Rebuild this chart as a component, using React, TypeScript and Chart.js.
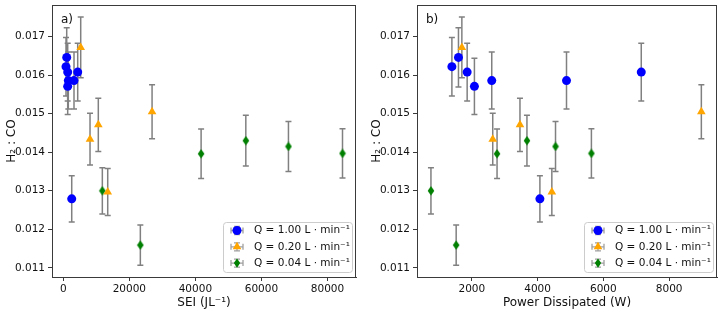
import React, { useEffect, useRef } from "react";
import { Chart, registerables } from "chart.js";

Chart.register(...registerables);

const FONT = "'DejaVu Sans', sans-serif";

const yTickValues = [0.011, 0.012, 0.013, 0.014, 0.015, 0.016, 0.017];
const seiTickValues = [0, 20000, 40000, 60000, 80000];
const powerTickValues = [2000, 4000, 6000, 8000];

const seriesLabels = ["Q = 1.00 L · min⁻¹", "Q = 0.20 L · min⁻¹", "Q = 0.04 L · min⁻¹"];
const seriesColors = ["#0000ff", "#ffa500", "#008000"];
const seriesMarkers = ["circle", "triangle", "thinDiamond"];

// Q = 1.00 L/min
const ratioQ100 = [0.01646, 0.01622, 0.01608, 0.01586, 0.01586, 0.01571, 0.01608, 0.01279];
const errQ100 = [0.00077, 0.00076, 0.00075, 0.00074, 0.00074, 0.00073, 0.00075, 0.0006];
const seiQ100 = [1030, 820, 1330, 1520, 3240, 1330, 4360, 2550];
const powerQ100 = [1594, 1394, 1858, 2606, 4879, 2079, 7152, 4070];

// Q = 0.20 L/min
const ratioQ020 = [0.01672, 0.01434, 0.01471, 0.01297, 0.01505];
const errQ020 = [0.00079, 0.00067, 0.00069, 0.00061, 0.0007];
const seiQ020 = [5270, 8090, 10600, 13450, 26880];
const powerQ020 = [1697, 2636, 3464, 4433, 8979];

// Q = 0.04 L/min
const ratioQ004 = [0.013, 0.01159, 0.01396, 0.0143, 0.01415, 0.01397];
const errQ004 = [0.0006, 0.00052, 0.00064, 0.00066, 0.00065, 0.00064];
const seiQ004 = [11820, 23330, 41730, 55270, 68180, 84550];
const powerQ004 = [757, 1524, 2767, 3676, 4545, 5636];

const ratios = [ratioQ100, ratioQ020, ratioQ004];
const errors = [errQ100, errQ020, errQ004];

const Y_MIN = 0.010762;
const Y_MAX = 0.017821;

const AXIS_COLOR = "#3a3a3a";

function drawMarker(ctx: CanvasRenderingContext2D, kind: string, x: number, y: number, color: string) {
  ctx.save();
  ctx.fillStyle = color;
  ctx.beginPath();
  if (kind === "circle") {
    ctx.arc(x, y, 4.5, 0, Math.PI * 2);
  } else if (kind === "triangle") {
    const r = 5;
    ctx.moveTo(x, y - r);
    ctx.lineTo(x + r * 0.866, y + r * 0.5);
    ctx.lineTo(x - r * 0.866, y + r * 0.5);
    ctx.closePath();
  } else {
    ctx.moveTo(x, y - 4.7);
    ctx.lineTo(x + 3.2, y);
    ctx.lineTo(x, y + 4.7);
    ctx.lineTo(x - 3.2, y);
    ctx.closePath();
  }
  ctx.fill();
  ctx.restore();
}

function makeThinDiamond(color: string): HTMLCanvasElement {
  const c = document.createElement("canvas");
  c.width = 8;
  c.height = 10;
  const g = c.getContext("2d")!;
  g.fillStyle = color;
  g.beginPath();
  g.moveTo(4, 0.3);
  g.lineTo(7.3, 5);
  g.lineTo(4, 9.7);
  g.lineTo(0.7, 5);
  g.closePath();
  g.fill();
  return c;
}

const errorBarPlugin = {
  id: "errorBars",
  beforeDatasetsDraw(chart: any) {
    const { ctx } = chart;
    const yScale = chart.scales.y;
    ctx.save();
    ctx.strokeStyle = "#808080";
    ctx.lineWidth = 1.5;
    chart.data.datasets.forEach((ds: any, di: number) => {
      const meta = chart.getDatasetMeta(di);
      meta.data.forEach((pt: any, i: number) => {
        const v = ds.data[i].y;
        const e = ds.errors[i];
        const x = pt.x;
        const yTop = yScale.getPixelForValue(v + e);
        const yBot = yScale.getPixelForValue(v - e);
        ctx.beginPath();
        ctx.moveTo(x, yTop);
        ctx.lineTo(x, yBot);
        ctx.moveTo(x - 3, yTop);
        ctx.lineTo(x + 3, yTop);
        ctx.moveTo(x - 3, yBot);
        ctx.lineTo(x + 3, yBot);
        ctx.stroke();
      });
    });
    ctx.restore();
  },
};

const decorPlugin = {
  id: "decor",
  afterDraw(chart: any, _args: any, opts: any) {
    const { ctx, chartArea: a } = chart;
    ctx.save();
    // frame
    ctx.strokeStyle = AXIS_COLOR;
    ctx.lineWidth = 1;
    ctx.strokeRect(Math.round(a.left) + 0.5, Math.round(a.top) + 0.5, Math.round(a.right - a.left) - 1, Math.round(a.bottom - a.top));
    // panel tag
    ctx.fillStyle = "#111";
    ctx.font = `12px ${FONT}`;
    ctx.textAlign = "left";
    ctx.textBaseline = "middle";
    ctx.fillText(opts.tag, a.left + 9, a.top + 15);
    // x title
    ctx.textAlign = "center";
    ctx.fillText(opts.xTitle, (a.left + a.right) / 2, 303);
    // y title
    ctx.save();
    ctx.translate(a.left - 40, (a.top + a.bottom) / 2);
    ctx.rotate(-Math.PI / 2);
    ctx.fillText("H₂ : CO", 0, 0);
    ctx.restore();
    // legend
    const bw = 129;
    const bh = 50;
    const bx = a.right - 4 - bw;
    const by = a.bottom - 5 - bh;
    ctx.beginPath();
    ctx.roundRect(bx + 0.5, by + 0.5, bw, bh, 3);
    ctx.fillStyle = "rgba(255,255,255,0.85)";
    ctx.fill();
    ctx.strokeStyle = "#cccccc";
    ctx.lineWidth = 1;
    ctx.stroke();
    seriesLabels.forEach((label, i) => {
      const cy = by + 8.5 + i * 16.3;
      const cx = bx + 14;
      ctx.strokeStyle = "#a0a0a0";
      ctx.lineWidth = 1.3;
      ctx.beginPath();
      ctx.moveTo(cx - 6, cy);
      ctx.lineTo(cx + 6, cy);
      ctx.moveTo(cx - 6, cy - 3);
      ctx.lineTo(cx - 6, cy + 3);
      ctx.moveTo(cx + 6, cy - 3);
      ctx.lineTo(cx + 6, cy + 3);
      ctx.moveTo(cx, cy - 4);
      ctx.lineTo(cx, cy + 4);
      ctx.moveTo(cx - 3, cy - 4);
      ctx.lineTo(cx + 3, cy - 4);
      ctx.moveTo(cx - 3, cy + 4);
      ctx.lineTo(cx + 3, cy + 4);
      ctx.stroke();
      drawMarker(ctx, seriesMarkers[i], cx, cy, seriesColors[i]);
      ctx.fillStyle = "#111";
      ctx.font = `10.5px ${FONT}`;
      ctx.textAlign = "left";
      ctx.textBaseline = "middle";
      ctx.fillText(label, bx + 31, cy);
    });
    ctx.restore();
  },
};

type PanelProps = {
  xSeries: number[][];
  xTicks: number[];
  xMin: number;
  xMax: number;
  xTitle: string;
  tag: string;
  yAxisWidth: number;
  padRight: number;
  left: number;
};

function Panel({ xSeries, xTicks, xMin, xMax, xTitle, tag, yAxisWidth, padRight, left }: PanelProps) {
  const ref = useRef<HTMLCanvasElement>(null);
  useEffect(() => {
    const canvas = ref.current!;
    const diamond = makeThinDiamond(seriesColors[2]);
    const styles: any[] = ["circle", "triangle", diamond];
    const radii = [4.5, 5, 4.5];
    const datasets = xSeries.map((xs, si) => ({
      label: seriesLabels[si],
      data: xs.map((x, i) => ({ x, y: ratios[si][i] })),
      errors: errors[si],
      pointStyle: styles[si],
      pointRadius: radii[si],
      pointHoverRadius: radii[si],
      backgroundColor: seriesColors[si],
      borderColor: seriesColors[si],
      pointBorderWidth: 0,
      showLine: false,
    }));
    const chart = new Chart(canvas, {
      type: "scatter",
      data: { datasets: datasets as any },
      options: {
        animation: false,
        responsive: false,
        devicePixelRatio: 1,
        layout: { padding: { top: 2, right: padRight, left: 0, bottom: 0 } },
        plugins: {
          legend: { display: false },
          tooltip: { enabled: false },
          decor: { tag, xTitle },
        } as any,
        scales: {
          x: {
            type: "linear",
            min: xMin,
            max: xMax,
            afterBuildTicks: (s: any) => {
              s.ticks = xTicks.map((v) => ({ value: v }));
            },
            afterFit: (s: any) => {
              s.height = 36;
              s.paddingLeft = 0;
              s.paddingRight = 0;
            },
            ticks: {
              autoSkip: false,
              maxRotation: 0,
              minRotation: 0,
              padding: 2,
              color: "#111",
              font: { family: FONT, size: 10.5 },
              callback: (v: any) => String(Math.round(Number(v))),
            },
            grid: { display: true, drawOnChartArea: false, drawTicks: true, tickLength: 4, color: AXIS_COLOR, lineWidth: 1 },
            border: { display: true, color: AXIS_COLOR, width: 1 },
          },
          y: {
            type: "linear",
            min: Y_MIN,
            max: Y_MAX,
            afterBuildTicks: (s: any) => {
              s.ticks = yTickValues.map((v) => ({ value: v }));
            },
            afterFit: (s: any) => {
              s.width = yAxisWidth;
              s.paddingTop = 0;
              s.paddingBottom = 0;
            },
            ticks: {
              autoSkip: false,
              padding: 3,
              color: "#111",
              font: { family: FONT, size: 10.5 },
              callback: (v: any) => Number(v).toFixed(3),
            },
            grid: { display: true, drawOnChartArea: false, drawTicks: true, tickLength: 4, color: AXIS_COLOR, lineWidth: 1 },
            border: { display: true, color: AXIS_COLOR, width: 1 },
          },
        },
      },
      plugins: [errorBarPlugin, decorPlugin],
    });
    return () => chart.destroy();
  }, []);
  return (
    <canvas
      ref={ref}
      width={361}
      height={313}
      style={{ position: "absolute", left, top: 0, width: 361, height: 313 }}
    />
  );
}

export default function App() {
  return (
    <div style={{ position: "absolute", left: 0, top: 0, width: 722, height: 313, background: "#fff" }}>
      <Panel
        xSeries={[seiQ100, seiQ020, seiQ004]}
        xTicks={seiTickValues}
        xMin={-3424}
        xMax={88636}
        xTitle="SEI (JL⁻¹)"
        tag="a)"
        yAxisWidth={52}
        padRight={5}
        left={0}
      />
      <Panel
        xSeries={[powerQ100, powerQ020, powerQ004]}
        xTicks={powerTickValues}
        xMin={333}
        xMax={9455}
        xTitle="Power Dissipated (W)"
        tag="b)"
        yAxisWidth={56}
        padRight={4}
        left={361}
      />
    </div>
  );
}
